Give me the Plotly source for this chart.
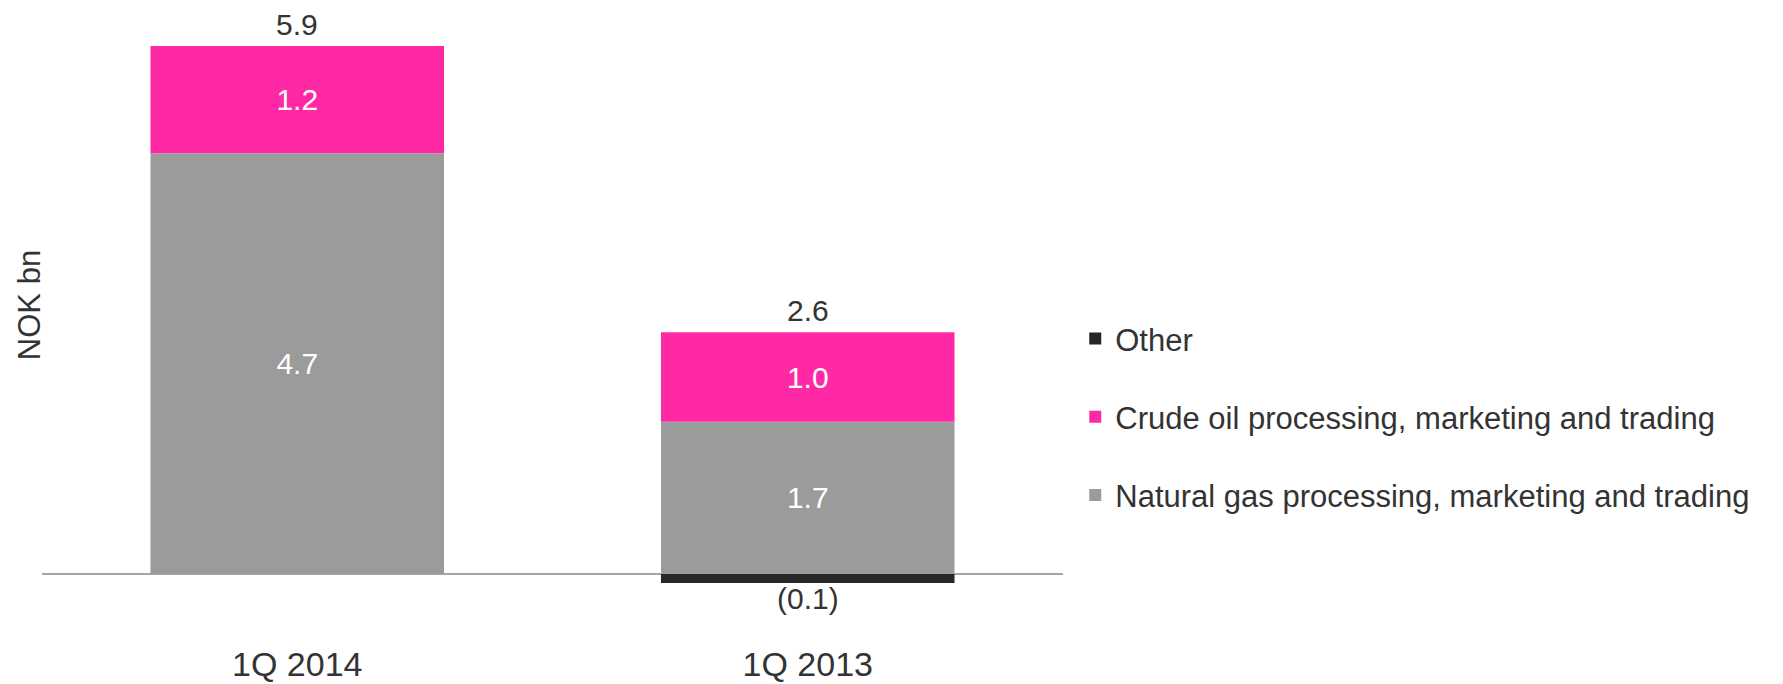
import plotly.graph_objects as go

quarters = ['1Q 2014', '1Q 2013']
natural_gas = [4.7, 1.7]
crude_oil = [1.2, 1.0]
other = [0.0, -0.1]

NAT_COLOR = '#9B9B9B'
CRUDE_COLOR = '#FF29A5'
OTHER_COLOR = '#262626'
TEXT_COLOR = '#333333'
FONT = 'Liberation Sans, Arial, sans-serif'


def fmt(v):
    if v < 0:
        return f'({abs(v):.1f})'
    return f'{v:.1f}'


fig = go.Figure()
fig.add_trace(go.Bar(
    x=quarters, y=natural_gas, name='Natural gas processing, marketing and trading',
    marker=dict(color=NAT_COLOR, line=dict(width=0)),
    text=[fmt(v) for v in natural_gas], textposition='inside', insidetextanchor='middle',
    textfont=dict(color='white', size=30), constraintext='none',
    legendgroup='nat', legendrank=3,
))
fig.add_trace(go.Bar(
    x=quarters, y=crude_oil, name='Crude oil processing, marketing and trading',
    marker=dict(color=CRUDE_COLOR, line=dict(width=0)),
    text=[fmt(v) for v in crude_oil], textposition='inside', insidetextanchor='middle',
    textfont=dict(color='white', size=30), constraintext='none',
    legendgroup='crude', legendrank=2,
))
fig.add_trace(go.Bar(
    x=quarters, y=other, name='Other',
    marker=dict(color=OTHER_COLOR, line=dict(width=0)),
    legendgroup='other', legendrank=1,
))

# totals above each column, negative values below
for q, n, c, o in zip(quarters, natural_gas, crude_oil, other):
    pos_top = sum(v for v in (n, c, o) if v > 0)
    total = n + c + o
    fig.add_annotation(x=q, y=pos_top, text=fmt(total), showarrow=False,
                       yanchor='bottom', yshift=3,
                       font=dict(size=30, color=TEXT_COLOR))
    if o < 0:
        fig.add_annotation(x=q, y=o, text=fmt(o), showarrow=False,
                           yanchor='top', yshift=3,
                           font=dict(size=30, color=TEXT_COLOR))

fig.add_annotation(x=-0.0115, y=0.531, xref='paper', yref='paper', text='NOK bn',
                   xanchor='center', yanchor='middle',
                   showarrow=False, textangle=-90, font=dict(size=31, color=TEXT_COLOR))

# the page body adds an 8px margin, so the figure is sized and placed to allow for it
fig.update_layout(
    width=1775, height=676,
    margin=dict(l=34, r=720, t=0, b=43),
    paper_bgcolor='white', plot_bgcolor='white',
    barmode='relative', bargap=0.425,
    font=dict(family=FONT, color=TEXT_COLOR),
    showlegend=True,
    legend=dict(
        x=1.012, xanchor='left', y=0.52, yanchor='top',
        traceorder='grouped', tracegroupgap=35,
        font=dict(size=31, color=TEXT_COLOR),
        bgcolor='rgba(0,0,0,0)',
    ),
    xaxis=dict(showline=False, showgrid=False, ticks='', automargin=False,
               tickfont=dict(size=34, color=TEXT_COLOR)),
    yaxis=dict(range=[-0.749, 6.324], showgrid=False, showticklabels=False, ticks='',
               automargin=False,
               zeroline=True, zerolinecolor='#A6A6A6', zerolinewidth=2),
)

fig.write_html('out.html')
